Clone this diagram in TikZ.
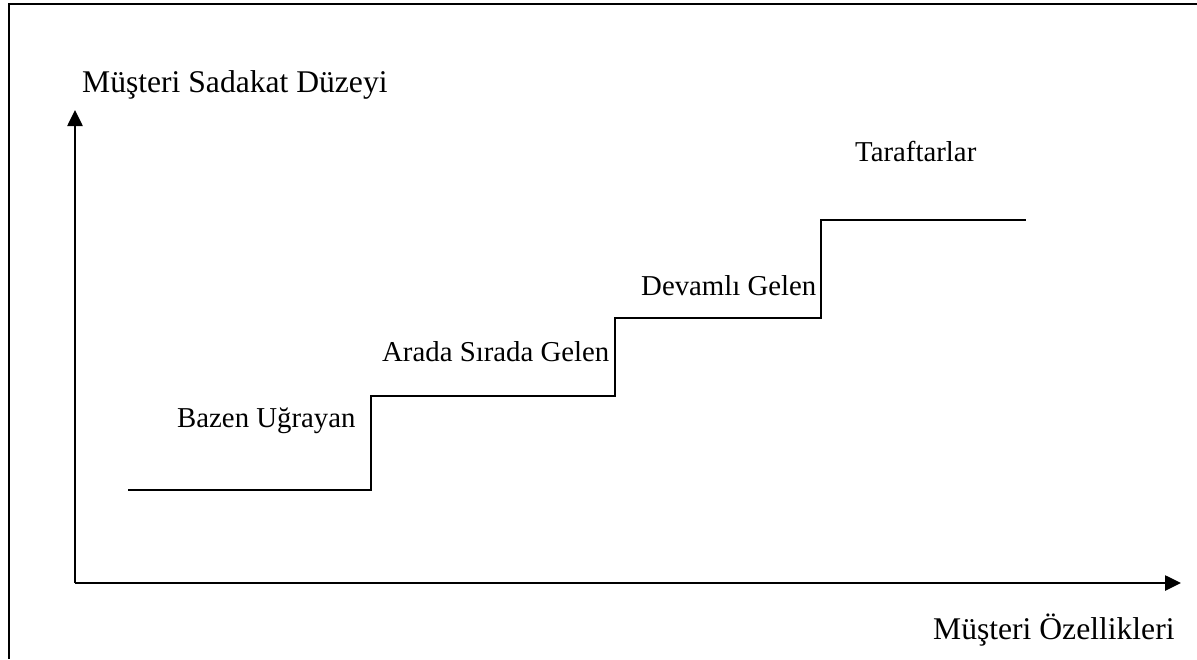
\documentclass[tikz,border=0pt]{standalone}
\usepackage{fontspec}
\setmainfont{Liberation Serif}
\usetikzlibrary{arrows.meta}
\begin{document}
\begin{tikzpicture}[x=1pt,y=-1pt,
  lbl/.style={anchor=base west,inner sep=0pt,font=\fontsize{28.8}{34}\selectfont},
  axlbl/.style={anchor=base west,inner sep=0pt,font=\fontsize{31.6}{38}\selectfont},
  axis/.style={line width=2.6pt,-{Triangle[length=16pt,width=15pt]}},
  stair/.style={line width=2.2pt},
  frame/.style={line width=2pt}]
\useasboundingbox (0,0) rectangle (1197,659);
\coordinate (tl) at (9,4);
\coordinate (tr) at (1197,4);
\coordinate (bl) at (9,659);
\draw[frame] (tr) -- (tl) -- (bl);
\coordinate (o) at (75,583);
\coordinate (ytip) at (75,110);
\coordinate (xtip) at (1181,583);
\draw[axis] (o) -- (ytip);
\draw[axis] (o) -- (xtip);
\coordinate (s0) at (128,490);
\coordinate (s1) at (371,490);
\coordinate (s2) at (371,396);
\coordinate (s3) at (615,396);
\coordinate (s4) at (615,318);
\coordinate (s5) at (821,318);
\coordinate (s6) at (821,220);
\coordinate (s7) at (1026,220);
\draw[stair] (s0) -- (s1) -- (s2) -- (s3) -- (s4) -- (s5) -- (s6) -- (s7);
\node[axlbl] (ylab) at (82,92) {Müşteri Sadakat Düzeyi};
\node[axlbl] (xlab) at (933,639) {Müşteri Özellikleri};
\node[lbl] (l1) at (177,427) {Bazen Uğrayan};
\node[lbl] (l2) at (382,361) {Arada Sırada Gelen};
\node[lbl] (l3) at (641,295) {Devamlı Gelen};
\node[lbl] (l4) at (855,161) {Taraftarlar};
\end{tikzpicture}
\end{document}
